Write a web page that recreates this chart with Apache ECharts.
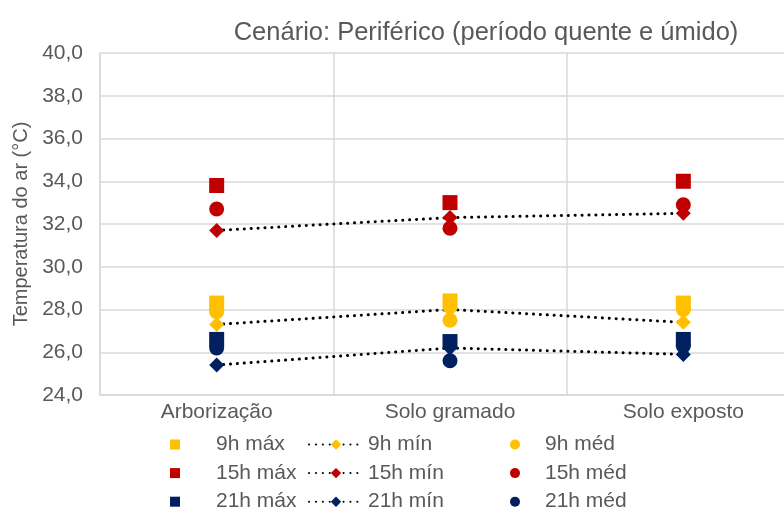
<!DOCTYPE html>
<html>
<head>
<meta charset="utf-8">
<script src="https://cdn.jsdelivr.net/npm/echarts@6/dist/echarts.min.js"></script>
<style>
  html, body { margin: 0; padding: 0; background: #fff; }
  #chart { width: 784px; height: 511px; }
</style>
</head>
<body>
<div id="chart"></div>
<script>
// Sites along the x axis
const categories = ['Arborização', 'Solo gramado', 'Solo exposto'];

// Air temperature (°C) per site
const max9h  = [28.3, 28.4, 28.3];
const min9h  = [27.3, 28.0, 27.4];
const med9h  = [27.9, 27.5, 28.0];
const max15h = [33.8, 33.0, 34.0];
const min15h = [31.7, 32.3, 32.5];
const med15h = [32.7, 31.8, 32.9];
const max21h = [26.6, 26.5, 26.6];
const min21h = [25.4, 26.2, 25.9];
const med21h = [26.2, 25.6, 26.3];

const yMin = 24, yMax = 40, yStep = 2;

const YELLOW = '#FFC000', RED = '#C00000', NAVY = '#002060';
const TEXT = '#595959', GRID = '#D9D9D9';
const FONT = '"Liberation Sans", Arial, sans-serif';

function maxSeries(name, data, color) {
  return { name, type: 'scatter', data, symbol: 'rect', symbolSize: 15,
           itemStyle: { color, opacity: 1 }, z: 3 };
}
function medSeries(name, data, color) {
  return { name, type: 'scatter', data, symbol: 'circle', symbolSize: 15,
           itemStyle: { color, opacity: 1 }, z: 3 };
}
function minSeries(name, data, color) {
  return { name, type: 'line', data, symbol: 'diamond', symbolSize: 15,
           showSymbol: true,
           itemStyle: { color, opacity: 1 },
           lineStyle: { color: '#000', width: 3, type: [0.1, 6.8], cap: 'round' },
           z: 2 };
}

const series = [
  maxSeries('9h máx', max9h, YELLOW),
  minSeries('9h mín', min9h, YELLOW),
  medSeries('9h méd', med9h, YELLOW),
  maxSeries('15h máx', max15h, RED),
  minSeries('15h mín', min15h, RED),
  medSeries('15h méd', med15h, RED),
  maxSeries('21h máx', max21h, NAVY),
  minSeries('21h mín', min21h, NAVY),
  medSeries('21h méd', med21h, NAVY)
];

// One legend per column so the three columns line up
function legendCol(left, itemWidth, itemHeight, textPad, names) {
  return {
    orient: 'vertical', left, top: 434, height: 120, itemWidth, itemHeight,
    itemGap: 7.6, padding: 0, symbolKeepAspect: true,
    textStyle: { color: TEXT, fontSize: 21, fontFamily: FONT,
                 padding: [0, 0, 0, textPad] },
    data: names, selectedMode: false
  };
}

const chart = echarts.init(document.getElementById('chart'), null, { renderer: 'canvas' });
chart.setOption({
  animation: false,
  backgroundColor: '#fff',
  title: {
    text: 'Cenário: Periférico (período quente e úmido)',
    left: 481, top: 15, textAlign: 'center',
    textStyle: { color: TEXT, fontSize: 25.5, fontWeight: 'normal', fontFamily: FONT }
  },
  legend: [
    legendCol(170, 10, 10, 31, ['9h máx', '15h máx', '21h máx']),
    legendCol(308, 54, 13, 0, ['9h mín', '15h mín', '21h mín']),
    legendCol(510, 10, 10, 20, ['9h méd', '15h méd', '21h méd'])
  ],
  grid: { left: 100, top: 53, right: -16, bottom: 116,
          containLabel: false, outerBoundsMode: 'none' },
  xAxis: {
    type: 'category', data: categories, boundaryGap: true,
    axisLine: { show: true, lineStyle: { color: GRID, width: 1.5 } },
    axisTick: { show: false },
    splitLine: { show: true, lineStyle: { color: GRID, width: 1.5 } },
    axisLabel: { color: TEXT, fontSize: 21, fontFamily: FONT, margin: 7 }
  },
  yAxis: {
    type: 'value', min: yMin, max: yMax, interval: yStep,
    name: 'Temperatura do ar (°C)', nameLocation: 'middle', nameGap: 66,
    nameTextStyle: { color: TEXT, fontSize: 20, fontFamily: FONT },
    axisLine: { show: true, lineStyle: { color: GRID, width: 1.5 } },
    axisTick: { show: false },
    splitLine: { show: true, lineStyle: { color: GRID, width: 1.5 } },
    axisLabel: {
      color: TEXT, fontSize: 21, fontFamily: FONT, margin: 17,
      formatter: v => v.toFixed(1).replace('.', ',')
    }
  },
  series
});
</script>
</body>
</html>
